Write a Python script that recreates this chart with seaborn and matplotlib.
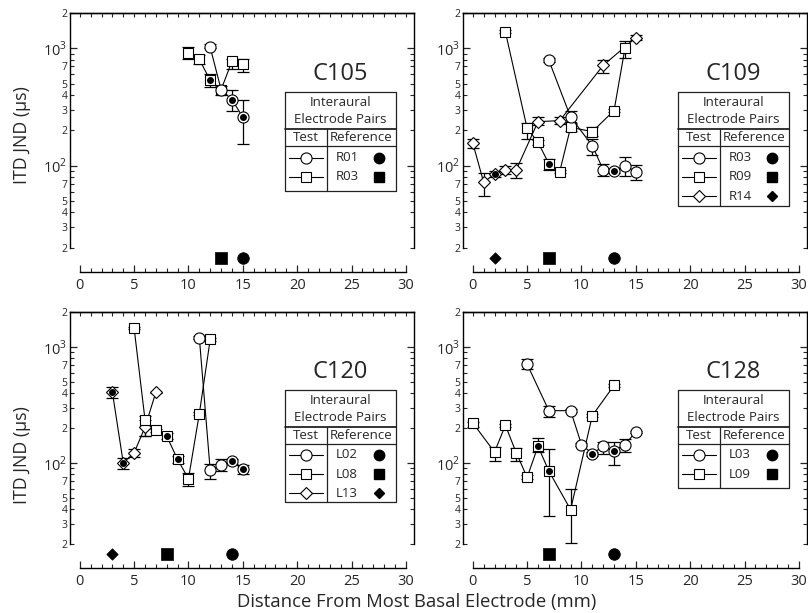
import numpy as np
import matplotlib
matplotlib.use("Agg")
import matplotlib.pyplot as plt
from matplotlib.ticker import FixedLocator, FixedFormatter
import seaborn as sns

sns.set_style("ticks")
plt.rcParams['font.family'] = ['Open Sans', 'DejaVu Sans']
plt.rcParams['mathtext.fontset'] = 'custom'
plt.rcParams['mathtext.rm'] = 'Open Sans'

# ---------------- data ----------------
# C105
c105_circ_x = [12, 13, 14, 15]
c105_circ_y = [1020, 445, 366, 259]
c105_circ_lo = [1000, np.nan, 290, 153]
c105_circ_hi = [1090, np.nan, 437, 364]
c105_circ_dot = [14, 15]
c105_sq_x = [10, 11, 12, 13, 14, 15]
c105_sq_y = [920, 805, 533, 444, 774, 740]
c105_sq_lo = [810, 730, 464, 400, 663, 627]
c105_sq_hi = [1020, 870, 600, 480, 810, 816]
c105_sq_dot = [12]
c105_refs = ["R01", "R03"]
c105_ref_x = [15, 13]

# C109
c109_circ_x = [7, 9, 11, 12, 13, 14, 15]
c109_circ_y = [790, 259, 148, 92, 90, 100, 89]
c109_circ_lo = [760, 227, 124, 81, 86, 81, 76]
c109_circ_hi = [820, 290, 169, 103, 94, 118, 102]
c109_circ_dot = [13]
c109_sq_x = [3, 5, 6, 7, 8, 9, 11, 13, 14]
c109_sq_y = [1380, 208, 158, 104, 89, 212, 195, 295, 1000]
c109_sq_lo = [1340, 170, 150, 92, 86, 196, 178, 285, 833]
c109_sq_hi = [1420, 230, 166, 115, 92, 233, 212, 305, 1154]
c109_sq_dot = [7]
c109_dia_x = [0, 1, 2, 3, 4, 6, 8, 12, 15]
c109_dia_y = [156, 72, 85, 92, 92, 237, 242, 716, 1234]
c109_dia_lo = [141, 55, 80, 85, 78, 220, 225, 617, 1180]
c109_dia_hi = [170, 86, 90, 100, 105, 260, 260, 790, 1290]
c109_dia_dot = [2]
c109_refs = ["R03", "R09", "R14"]
c109_ref_x = [13, 7, 2]

# C120
c120_circ_x = [11, 12, 13, 14, 15]
c120_circ_y = [1200, 86, 96, 103, 88]
c120_circ_lo = [1170, 72, 85, 98, 80]
c120_circ_hi = [1230, 97, 109, 108, 96]
c120_circ_dot = [14, 15]
c120_sq_x = [5, 6, 7, 8, 9, 10, 11, 12]
c120_sq_y = [1450, 236, 191, 170, 107, 73, 266, 1160]
c120_sq_lo = [1420, 170, 185, 160, 100, 63, 260, 1130]
c120_sq_hi = [1480, 252, 197, 180, 115, 82, 272, 1190]
c120_sq_dot = [8, 9]
c120_dia_x = [3, 4, 5, 6, 7]
c120_dia_y = [406, 100, 122, 203, 406]
c120_dia_lo = [365, 88, 113, 170, 400]
c120_dia_hi = [450, 110, 133, 235, 412]
c120_dia_dot = [3, 4]
c120_refs = ["L02", "L08", "L13"]
c120_ref_x = [14, 8, 3]

# C128
c128_circ_x = [5, 7, 9, 10, 11, 12, 13, 14, 15]
c128_circ_y = [710, 282, 282, 144, 120, 139, 127, 144, 185]
c128_circ_lo = [650, 250, 275, 140, 115, 120, 96, 125, 180]
c128_circ_hi = [780, 310, 290, 148, 125, 150, 150, 160, 190]
c128_circ_dot = [11, 13]
c128_sq_x = [0, 2, 3, 4, 5, 6, 7, 9, 11, 13]
c128_sq_y = [221, 124, 211, 122, 75, 139, 85, 39.5, 256, 466]
c128_sq_lo = [205, 104, 205, 104, 72, 124, 35, 20.3, 250, 455]
c128_sq_hi = [225, 138, 215, 134, 78, 164, 132, 60, 262, 477]
c128_sq_dot = [6, 7]
c128_refs = ["L03", "L09"]
c128_ref_x = [13, 7]

panel_names = ["C105", "C109", "C120", "C128"]
ref_y = 16.4

# ---------------- figure ----------------
fig = plt.figure(figsize=(8.08, 6.13), dpi=100)
W, H = 808, 613
positions = [
    [70 / W, 1 - 272 / H, 344 / W, 259 / H],
    [463 / W, 1 - 272 / H, 344 / W, 259 / H],
    [70 / W, 1 - 568 / H, 344 / W, 256 / H],
    [463 / W, 1 - 568 / H, 344 / W, 256 / H],
]

MS = {'o': 8.0, 's': 7.8, 'D': 6.0}
REF_S = {'o': 70, 's': 70, 'D': 34}


def setup_axes(ax):
    ax.set_yscale('log')
    ax.set_ylim(12.4, 2000)
    ax.set_xlim(-0.9, 30.75)
    for s in ['left', 'right', 'top', 'bottom']:
        ax.spines[s].set_visible(True)
        ax.spines[s].set_color('black')
        ax.spines[s].set_linewidth(1.0)
    ax.spines['left'].set_bounds(20, 2000)
    ax.spines['right'].set_bounds(20, 2000)
    ax.spines['bottom'].set_bounds(0, 30)
    # x ticks
    ax.xaxis.set_major_locator(FixedLocator([0, 5, 10, 15, 20, 25, 30]))
    ax.xaxis.set_minor_locator(FixedLocator([i for i in range(31) if i % 5]))
    ax.tick_params(axis='x', which='major', direction='in', length=5, width=0.9,
                   bottom=True, top=False, labelsize=10.5, pad=4)
    ax.tick_params(axis='x', which='minor', direction='in', length=3, width=0.8,
                   bottom=True, top=False)
    top = ax.secondary_xaxis('top')
    top.set_xticks(list(range(31)))
    top.tick_params(direction='in', length=3, width=0.8, labeltop=False)
    top.spines['top'].set_linewidth(1.0)
    # y ticks
    ax.yaxis.set_major_locator(FixedLocator([100, 1000]))
    ax.yaxis.set_major_formatter(FixedFormatter([r'$10^2$', r'$10^3$']))
    minors = [20, 30, 40, 50, 60, 70, 80, 90, 200, 300, 400, 500, 600, 700, 800, 900, 2000]
    mlabels = ['2', '3', '4', '5', '', '7', '', '', '2', '3', '4', '5', '', '7', '', '', '2']
    ax.yaxis.set_minor_locator(FixedLocator(minors))
    ax.yaxis.set_minor_formatter(FixedFormatter(mlabels))
    ax.tick_params(axis='y', which='major', direction='in', length=5, width=0.9,
                   left=True, right=True, labelsize=10.5, pad=2)
    ax.tick_params(axis='y', which='minor', direction='in', length=3, width=0.8,
                   left=True, right=True, labelsize=7.5, pad=2)
    ax.set_xlabel('')
    ax.set_ylabel('')


def draw_series(ax, xs, ys, lo, hi, dots, marker):
    xs = np.asarray(xs, float)
    ys = np.asarray(ys, float)
    lo = np.asarray(lo, float)
    hi = np.asarray(hi, float)
    m = ~np.isnan(lo)
    ax.errorbar(xs[m], ys[m], yerr=[ys[m] - lo[m], hi[m] - ys[m]], fmt='none',
                ecolor='black', elinewidth=0.9, capsize=4.5, capthick=0.9, zorder=2)
    sns.lineplot(x=xs, y=ys, ax=ax, color='black', lw=0.8, estimator=None, sort=False,
                 marker=marker, markersize=MS[marker], markerfacecolor='white',
                 markeredgecolor='black', markeredgewidth=0.8, zorder=3)
    dx = [x for x in xs if x in dots]
    dy = [y for x, y in zip(xs, ys) if x in dots]
    if dx:
        ax.plot(dx, dy, 'o', ms=4.0, color='black', zorder=4)


def draw_refs(ax, rx, markers):
    for x, mk in zip(rx, markers):
        sns.scatterplot(x=[x], y=[ref_y], ax=ax, marker=mk, s=REF_S[mk], color='black',
                        edgecolor='black', linewidth=0.5, zorder=5, legend=False)


def draw_table(ax, name, refs, markers):
    tr = ax.transAxes
    n = len(refs)
    L, R, T, DV = 0.625, 0.948, 0.695, 0.747
    y_hdr, y_tst = 0.552, 0.486
    row = 0.075
    B = y_tst - n * row - (0.022 if n == 2 else 0.005)
    kw = dict(transform=tr, color='#222222', lw=0.9, zorder=6)
    ax.plot([L, R, R, L, L], [T, T, B, B, T], **kw)
    ax.plot([L, R], [y_hdr, y_hdr], transform=tr, color='#222222', lw=1.3, zorder=6)
    ax.plot([L, R], [y_tst, y_tst], **kw)
    ax.plot([DV, DV], [y_hdr, B], **kw)
    tk = dict(transform=tr, ha='center', va='center', fontsize=9.5, zorder=7)
    ax.text((L + R) / 2, 0.656, 'Interaural', **tk)
    ax.text((L + R) / 2, 0.587, 'Electrode Pairs', **tk)
    ax.text((L + DV) / 2, 0.518, 'Test', **tk)
    ax.text((DV + R) / 2, 0.518, 'Reference', **tk)
    ax.text(0.785, 0.764, name, transform=tr, ha='center', va='center', fontsize=17)
    for i, (rname, mk) in enumerate(zip(refs, markers)):
        yy = 0.442 - i * row
        ax.plot([0.637, 0.735], [yy, yy], transform=tr, color='black', lw=0.8,
                marker=None, zorder=7)
        ax.plot([0.686], [yy], transform=tr, marker=mk, ms=MS[mk], mfc='white',
                mec='black', mew=0.8, zorder=8, ls='none')
        ax.text(0.805, yy, rname, **tk)
        ax.plot([0.898], [yy], transform=tr, marker=mk, ms=(7.5 if mk != 'D' else 5.5),
                color='black', zorder=8, ls='none')


axes = [fig.add_axes(p) for p in positions]
for ax in axes:
    setup_axes(ax)

# C105
ax = axes[0]
draw_series(ax, c105_sq_x, c105_sq_y, c105_sq_lo, c105_sq_hi, c105_sq_dot, 's')
draw_series(ax, c105_circ_x, c105_circ_y, c105_circ_lo, c105_circ_hi, c105_circ_dot, 'o')
draw_refs(ax, c105_ref_x, ['o', 's'])
draw_table(ax, panel_names[0], c105_refs, ['o', 's'])

# C109
ax = axes[1]
draw_series(ax, c109_dia_x, c109_dia_y, c109_dia_lo, c109_dia_hi, c109_dia_dot, 'D')
draw_series(ax, c109_sq_x, c109_sq_y, c109_sq_lo, c109_sq_hi, c109_sq_dot, 's')
draw_series(ax, c109_circ_x, c109_circ_y, c109_circ_lo, c109_circ_hi, c109_circ_dot, 'o')
draw_refs(ax, c109_ref_x, ['o', 's', 'D'])
draw_table(ax, panel_names[1], c109_refs, ['o', 's', 'D'])

# C120
ax = axes[2]
draw_series(ax, c120_dia_x, c120_dia_y, c120_dia_lo, c120_dia_hi, c120_dia_dot, 'D')
draw_series(ax, c120_sq_x, c120_sq_y, c120_sq_lo, c120_sq_hi, c120_sq_dot, 's')
draw_series(ax, c120_circ_x, c120_circ_y, c120_circ_lo, c120_circ_hi, c120_circ_dot, 'o')
draw_refs(ax, c120_ref_x, ['o', 's', 'D'])
draw_table(ax, panel_names[2], c120_refs, ['o', 's', 'D'])

# C128
ax = axes[3]
draw_series(ax, c128_sq_x, c128_sq_y, c128_sq_lo, c128_sq_hi, c128_sq_dot, 's')
draw_series(ax, c128_circ_x, c128_circ_y, c128_circ_lo, c128_circ_hi, c128_circ_dot, 'o')
draw_refs(ax, c128_ref_x, ['o', 's'])
draw_table(ax, panel_names[3], c128_refs, ['o', 's'])

for ax in axes:
    ax.set_xlabel('')
    ax.set_ylabel('')
    ax.set_ylim(12.4, 2000)
    ax.set_xlim(-0.9, 30.75)

fig.text(22 / W, 1 - 135 / H, 'ITD JND (\u00b5s)', rotation=90, ha='center', va='center', fontsize=12.8)
fig.text(22 / W, 1 - 455 / H, 'ITD JND (\u00b5s)', rotation=90, ha='center', va='center', fontsize=12.8)
fig.text(417 / W, 1 - 602 / H, 'Distance From Most Basal Electrode (mm)', ha='center', va='center',
         fontsize=13.3)

fig.savefig('out.png', dpi=100)
